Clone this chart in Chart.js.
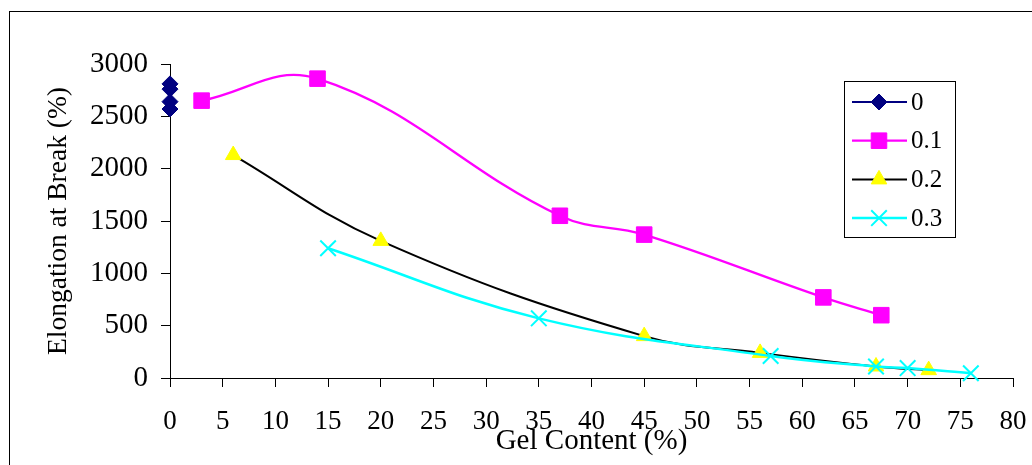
<!DOCTYPE html>
<html>
<head>
<meta charset="utf-8">
<script src="https://cdn.jsdelivr.net/npm/chart.js@4.4.0/dist/chart.umd.min.js"></script>
<style>
body { margin: 0; background: #fff; }
</style>
</head>
<body>
<canvas id="myChart" width="1032" height="465"></canvas>
<script>
// Series names (legend)
var seriesNames = ['0', '0.1', '0.2', '0.3'];

// Gel content (%) and elongation at break (%) per series
var gel0 = [0, 0, 0, 0];
var elong0 = [2810, 2760, 2640, 2570];

var gel1 = [3, 14, 37, 45, 62, 67.5];
var elong1 = [2650, 2860, 1550, 1370, 770, 600];

var gel2 = [6, 20, 45, 56, 67, 72];
var elong2 = [2130, 1310, 400, 240, 110, 75];

var gel3 = [15, 35, 57, 67, 70, 76];
var elong3 = [1240, 570, 210, 110, 95, 45];

// Axis ticks
var xTicks = [0, 5, 10, 15, 20, 25, 30, 35, 40, 45, 50, 55, 60, 65, 70, 75, 80];
var yTicks = [0, 500, 1000, 1500, 2000, 2500, 3000];

var fontFamily = '"Liberation Serif", "Times New Roman", serif';

function toPoints(xs, ys) {
    return xs.map(function (x, i) { return { x: x, y: ys[i] }; });
}

// outer frame, like the exported chart border
var frame = {
    id: 'frame',
    beforeDraw: function (chart) {
        var ctx = chart.ctx;
        ctx.save();
        ctx.fillStyle = '#fff';
        ctx.fillRect(0, 0, chart.width, chart.height);
        ctx.strokeStyle = '#000';
        ctx.lineWidth = 1;
        ctx.strokeRect(9.5, 11.5, 1200, 1000);
        ctx.restore();
    }
};

// boxed legend with line + marker samples
var legendBox = {
    id: 'legendBox',
    afterDraw: function (chart) {
        var ctx = chart.ctx;
        ctx.save();
        ctx.strokeStyle = '#000';
        ctx.lineWidth = 1;
        ctx.strokeRect(844.5, 81.5, 111, 156);
        chart.data.datasets.forEach(function (ds, i) {
            var y = 102 + i * 38.7;
            ctx.strokeStyle = ds.borderColor;
            ctx.lineWidth = ds.borderWidth;
            ctx.beginPath();
            ctx.moveTo(852, y);
            ctx.lineTo(907, y);
            ctx.stroke();
            ctx.fillStyle = ds.pointBackgroundColor;
            ctx.strokeStyle = ds.pointBorderColor;
            ctx.lineWidth = ds.pointBorderWidth;
            Chart.helpers.drawPoint(ctx, {
                pointStyle: ds.pointStyle,
                radius: ds.pointRadius,
                borderWidth: ds.pointBorderWidth,
                rotation: 0
            }, 879, y);
            ctx.fillStyle = '#000';
            ctx.font = '25px ' + fontFamily;
            ctx.textBaseline = 'middle';
            ctx.textAlign = 'left';
            ctx.fillText(ds.label, 911, y + 1);
        });
        ctx.restore();
    }
};

var ctx = document.getElementById('myChart').getContext('2d');
var myChart = new Chart(ctx, {
    type: 'line',
    data: {
        datasets: [{
            label: seriesNames[0],
            data: toPoints(gel0, elong0),
            borderColor: '#000080',
            borderWidth: 2,
            pointStyle: 'rectRot',
            pointRadius: 8,
            pointBackgroundColor: '#000080',
            pointBorderColor: '#000080',
            pointBorderWidth: 1,
            tension: 0.4,
            clip: false,
            order: 3
        }, {
            label: seriesNames[1],
            data: toPoints(gel1, elong1),
            borderColor: '#FF00FF',
            borderWidth: 2.3,
            pointStyle: 'rect',
            pointRadius: 11,
            pointBackgroundColor: '#FF00FF',
            pointBorderColor: '#FF00FF',
            pointBorderWidth: 1,
            tension: 0.4,
            clip: false,
            order: 2
        }, {
            label: seriesNames[2],
            data: toPoints(gel2, elong2),
            borderColor: '#000000',
            borderWidth: 2,
            pointStyle: 'triangle',
            pointRadius: 9,
            pointBackgroundColor: '#FFFF00',
            pointBorderColor: '#FFFF00',
            pointBorderWidth: 1,
            tension: 0.4,
            clip: false,
            order: 1
        }, {
            label: seriesNames[3],
            data: toPoints(gel3, elong3),
            borderColor: '#00FFFF',
            borderWidth: 2.5,
            pointStyle: 'crossRot',
            pointRadius: 11,
            pointBackgroundColor: '#00FFFF',
            pointBorderColor: '#00FFFF',
            pointBorderWidth: 2,
            tension: 0.4,
            clip: false,
            order: 0
        }]
    },
    options: {
        responsive: false,
        animation: false,
        events: [],
        layout: { padding: { top: 64, right: 19, bottom: 0, left: 0 } },
        plugins: {
            legend: { display: false },
            tooltip: { enabled: false }
        },
        scales: {
            x: {
                type: 'linear',
                position: 'bottom',
                min: 0,
                max: 80,
                afterBuildTicks: function (scale) {
                    scale.ticks = xTicks.map(function (v) { return { value: v }; });
                },
                afterFit: function (scale) {
                    scale.height = 87;
                    scale.paddingLeft = 0;
                    scale.paddingRight = 0;
                },
                grid: { drawOnChartArea: false, drawTicks: true, tickLength: 9, color: '#000' },
                border: { display: true, color: '#000', width: 1 },
                ticks: {
                    color: '#000',
                    padding: 19,
                    maxRotation: 0,
                    autoSkip: false,
                    font: { family: fontFamily, size: 27 },
                    callback: function (v) { return String(v); }
                },
                title: {
                    display: true,
                    text: 'Gel Content (%)',
                    color: '#000',
                    font: { family: fontFamily, size: 29 },
                    padding: { top: 0, bottom: 6 }
                }
            },
            y: {
                min: 0,
                max: 3000,
                afterBuildTicks: function (scale) {
                    scale.ticks = yTicks.map(function (v) { return { value: v }; });
                },
                afterFit: function (scale) {
                    scale.width = 170;
                    scale.paddingTop = 0;
                    scale.paddingBottom = 0;
                },
                grid: { drawOnChartArea: false, drawTicks: true, tickLength: 9, color: '#000' },
                border: { display: true, color: '#000', width: 1 },
                ticks: {
                    color: '#000',
                    padding: 13,
                    font: { family: fontFamily, size: 29 },
                    callback: function (v) { return String(v); }
                },
                title: {
                    display: true,
                    text: 'Elongation at Break (%)',
                    color: '#000',
                    font: { family: fontFamily, size: 27.5 },
                    padding: { top: 42, bottom: 0 }
                }
            }
        }
    },
    plugins: [frame, legendBox]
});
</script>
</body>
</html>
